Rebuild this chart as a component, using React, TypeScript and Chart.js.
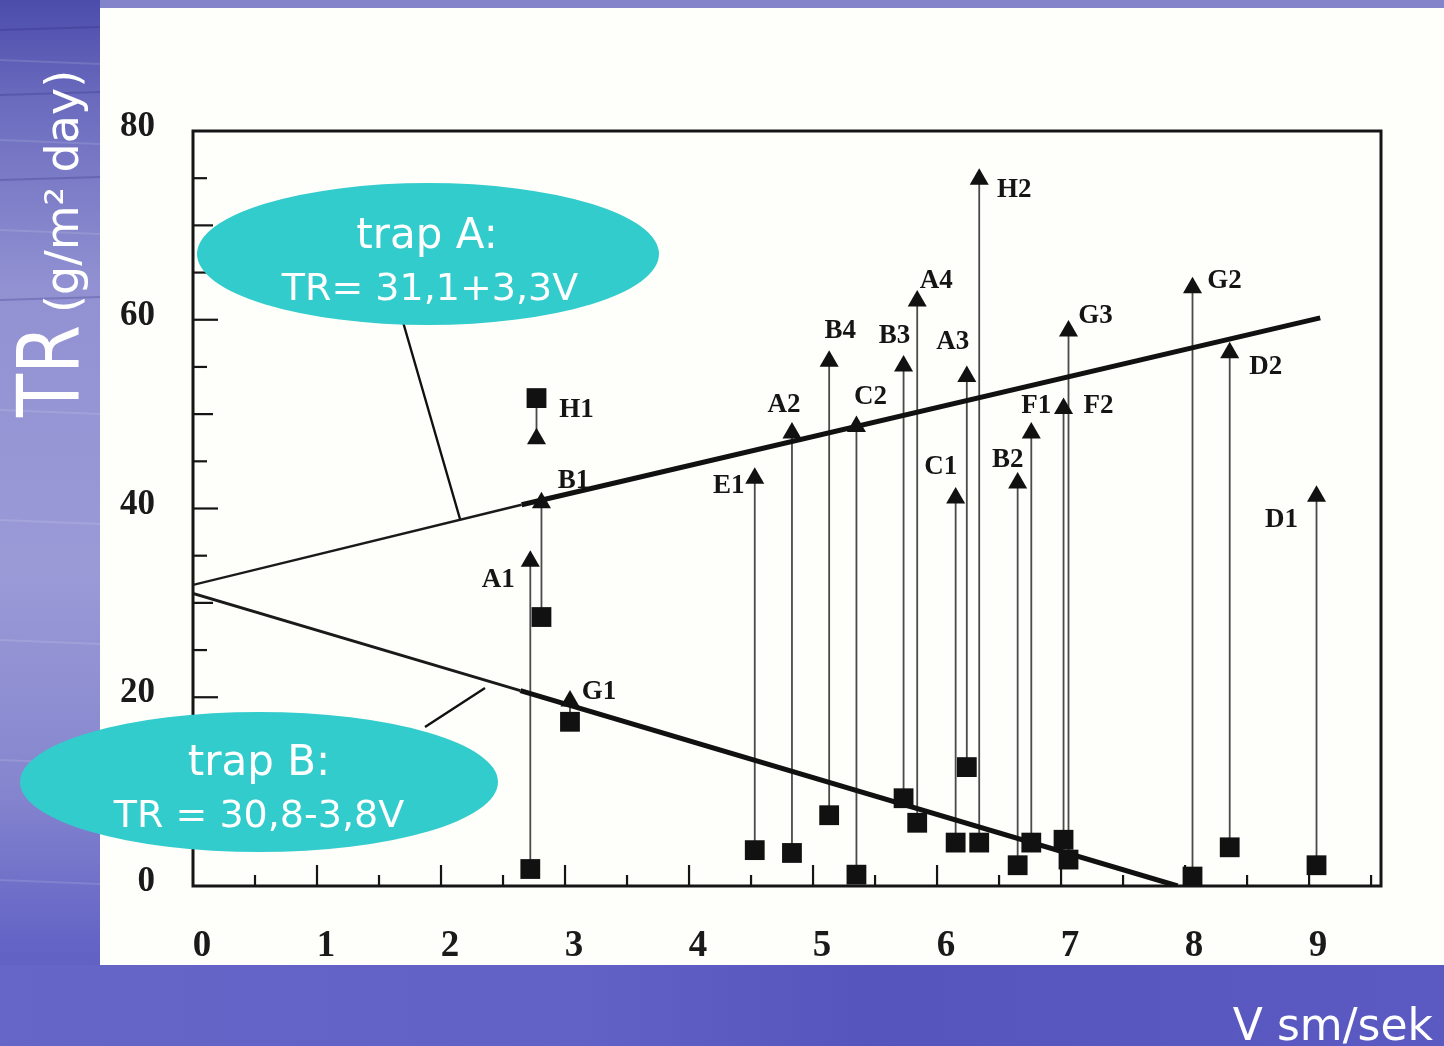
import React, { useEffect, useRef } from "react";
import { Chart, registerables } from "chart.js";

Chart.register(...registerables);

// ---- data ----
const stations = ["A1", "H1", "B1", "G1", "E1", "A2", "B4", "C2", "B3", "A4", "C1", "A3", "H2", "B2", "F1", "F2", "G3", "G2", "D2", "D1"];
const velocity = [2.72, 2.77, 2.81, 3.04, 4.53, 4.83, 5.13, 5.35, 5.73, 5.84, 6.15, 6.24, 6.34, 6.65, 6.76, 7.02, 7.06, 8.06, 8.36, 9.06];
const trapA = [34.4, 47.4, 40.6, 19.6, 43.2, 48.0, 55.6, 48.7, 55.1, 62.0, 41.1, 54.0, 74.9, 42.7, 48.0, 50.6, 58.8, 63.4, 56.5, 41.3];
const trapB = [1.8, 51.7, 28.5, 17.4, 3.8, 3.5, 7.5, 1.2, 9.3, 6.7, 4.6, 12.6, 4.6, 2.2, 4.6, 4.9, 2.8, 1.0, 4.1, 2.2];

// fitted lines (V, TR)
const fitAV = [0, 2.65, 9.09];
const fitATR = [31.9, 40.4, 60.2];
const fitBV = [0, 2.64, 7.94];
const fitBTR = [31.0, 20.7, 0];

const xMin = 0;
const xMax = 9.58;
const yMin = 0;
const yMax = 80;
const xStep = 1;
const yStep = 20;

const yTitleMain = "TR";
const yTitleUnit = "(g/m\u00B2 day)";
const xTitle = "V sm/sek";
const noteA = ["trap A:", "TR= 31,1+3,3V"];
const noteB = ["trap B:", "TR = 30,8-3,8V"];

// ---- layout (pixels) ----
const labelOffsets = [
  [-32, 19], [40, -29], [32, -22], [29, -9], [-26, 8], [-8, -28], [11, -30], [14, -29], [-9, -30], [19, -20],
  [-15, -31], [-14, -34], [35, 11], [-10, -23], [5, -27], [35, -2], [27, -15], [32, -7], [36, 14], [-35, 24],
];

const W = 1444;
const H = 1046;

function pts(xs: number[], ys: number[]) {
  return xs.map((v, i) => ({ x: v, y: ys[i] }));
}

const slidePlugin = {
  id: "slide",
  beforeDraw(chart: any) {
    const ctx = chart.ctx;
    ctx.save();
    const g = ctx.createLinearGradient(0, 0, 0, H);
    g.addColorStop(0, "#4c4cac");
    g.addColorStop(0.1, "#6c6cbf");
    g.addColorStop(0.28, "#9292d3");
    g.addColorStop(0.55, "#9a9ad7");
    g.addColorStop(0.75, "#8686cf");
    g.addColorStop(0.9, "#6464c6");
    g.addColorStop(1, "#5a5ac0");
    ctx.fillStyle = g;
    ctx.fillRect(0, 0, W, H);
    // bottom band
    const gb = ctx.createLinearGradient(0, 0, W, 0);
    gb.addColorStop(0, "#6666c8");
    gb.addColorStop(0.4, "#6161c6");
    gb.addColorStop(0.6, "#5555bd");
    gb.addColorStop(1, "#5a5ac2");
    ctx.fillStyle = gb;
    ctx.fillRect(0, 965, W, H - 965);
    // top strip
    ctx.fillStyle = "#8484cb";
    ctx.fillRect(100, 0, W - 100, 8);
    // faint streaks on the left strip
    ctx.strokeStyle = "rgba(255,255,255,0.12)";
    ctx.lineWidth = 2;
    for (const sy of [60, 140, 230, 410, 520, 640, 760, 880]) {
      ctx.beginPath();
      ctx.moveTo(0, sy);
      ctx.lineTo(100, sy + 4);
      ctx.stroke();
    }
    ctx.strokeStyle = "rgba(40,40,120,0.25)";
    for (const sy of [30, 95, 180, 300]) {
      ctx.beginPath();
      ctx.moveTo(0, sy);
      ctx.lineTo(100, sy - 3);
      ctx.stroke();
    }
    // white panel
    ctx.fillStyle = "#fefefb";
    ctx.fillRect(100, 8, W - 100, 957);
    ctx.restore();
  },
  beforeDatasetsDraw(chart: any) {
    const { ctx, chartArea: a } = chart;
    const xs = chart.scales.x;
    const ys = chart.scales.y;
    ctx.save();
    // connectors between trap A and trap B values
    ctx.strokeStyle = "#4a4a4a";
    ctx.lineWidth = 1.8;
    for (let i = 0; i < stations.length; i++) {
      const px = xs.getPixelForValue(velocity[i]);
      ctx.beginPath();
      ctx.moveTo(px, ys.getPixelForValue(trapA[i]));
      ctx.lineTo(px, ys.getPixelForValue(trapB[i]));
      ctx.stroke();
    }
    // frame
    ctx.strokeStyle = "#151515";
    ctx.lineWidth = 3;
    ctx.strokeRect(a.left, a.top, a.right - a.left, a.bottom - a.top);
    // inner ticks on the left axis
    ctx.lineWidth = 2.2;
    for (let v = 5; v < yMax; v += 5) {
      const len = v % 20 === 0 ? 25 : v % 10 === 0 ? 20 : 14;
      const py = ys.getPixelForValue(v);
      ctx.beginPath();
      ctx.moveTo(a.left, py);
      ctx.lineTo(a.left + len, py);
      ctx.stroke();
    }
    // inner ticks on the bottom axis
    for (let v = 0.5; v < xMax; v += 0.5) {
      const len = Number.isInteger(v) ? 21 : 11;
      const px = xs.getPixelForValue(v);
      ctx.beginPath();
      ctx.moveTo(px, a.bottom);
      ctx.lineTo(px, a.bottom - len);
      ctx.stroke();
    }
    // leader lines from the notes
    ctx.strokeStyle = "#111";
    ctx.lineWidth = 2.4;
    ctx.beginPath();
    ctx.moveTo(403, 322);
    ctx.lineTo(460, 519);
    ctx.moveTo(425, 727);
    ctx.lineTo(485, 688);
    ctx.stroke();
    ctx.restore();
  },
  afterDatasetsDraw(chart: any) {
    const ctx = chart.ctx;
    const xs = chart.scales.x;
    const ys = chart.scales.y;
    ctx.save();
    ctx.fillStyle = "#151515";
    ctx.font = 'bold 27px "Liberation Serif"';
    ctx.textAlign = "center";
    ctx.textBaseline = "middle";
    for (let i = 0; i < stations.length; i++) {
      const px = xs.getPixelForValue(velocity[i]);
      const py = ys.getPixelForValue(trapA[i]);
      const [dx, dy] = labelOffsets[i];
      ctx.fillText(stations[i], px + dx, py + dy);
    }
    ctx.restore();
  },
  afterDraw(chart: any) {
    const ctx = chart.ctx;
    ctx.save();
    // ellipse notes
    ctx.fillStyle = "#33cccc";
    ctx.beginPath();
    ctx.ellipse(428, 254, 231, 71, 0, 0, Math.PI * 2);
    ctx.fill();
    ctx.beginPath();
    ctx.ellipse(259, 782, 239, 70, 0, 0, Math.PI * 2);
    ctx.fill();
    ctx.fillStyle = "#ffffff";
    ctx.textAlign = "center";
    ctx.textBaseline = "alphabetic";
    ctx.font = '42px "DejaVu Sans"';
    ctx.fillText(noteA[0], 427, 248);
    ctx.font = '38px "DejaVu Sans"';
    ctx.fillText(noteA[1], 430, 300);
    ctx.font = '42px "DejaVu Sans"';
    ctx.fillText(noteB[0], 259, 775);
    ctx.font = '38px "DejaVu Sans"';
    ctx.fillText(noteB[1], 259, 827);

    // y title (rotated)
    ctx.save();
    ctx.translate(78, 417);
    ctx.rotate(-Math.PI / 2);
    ctx.textAlign = "left";
    ctx.font = '86px "DejaVu Sans"';
    const wTR = ctx.measureText(yTitleMain).width * 0.82;
    ctx.save();
    ctx.scale(0.82, 1);
    ctx.fillText(yTitleMain, 0, 0);
    ctx.restore();
    ctx.font = '46px "DejaVu Sans"';
    ctx.fillText(yTitleUnit, wTR + 12, 0);
    ctx.restore();

    // x title
    ctx.textAlign = "right";
    ctx.font = '44px "DejaVu Sans"';
    ctx.fillText(xTitle, 1433, 1040);
    ctx.restore();
  },
};

export default function App() {
  const ref = useRef<HTMLCanvasElement | null>(null);

  useEffect(() => {
    document.body.style.margin = "0";
    document.body.style.overflow = "hidden";
    const canvas = ref.current;
    if (!canvas) return;
    const chart = new Chart(canvas, {
      type: "scatter",
      data: {
        datasets: [
          {
            label: "trap A",
            data: pts(velocity, trapA),
            pointStyle: "triangle",
            radius: 11,
            backgroundColor: "#111",
            borderWidth: 0,
            order: 0,
          },
          {
            label: "trap B",
            data: pts(velocity, trapB),
            pointStyle: "rect",
            radius: 14,
            backgroundColor: "#111",
            borderWidth: 0,
            order: 0,
          },
          {
            label: "fit A (extrapolated)",
            data: pts(fitAV.slice(0, 2), fitATR.slice(0, 2)),
            showLine: true,
            pointRadius: 0,
            borderColor: "#1a1a1a",
            borderWidth: 2.4,
            order: 2,
          },
          {
            label: "fit A",
            data: pts(fitAV.slice(1), fitATR.slice(1)),
            showLine: true,
            pointRadius: 0,
            borderColor: "#111",
            borderWidth: 5,
            order: 2,
          },
          {
            label: "fit B (extrapolated)",
            data: pts(fitBV.slice(0, 2), fitBTR.slice(0, 2)),
            showLine: true,
            pointRadius: 0,
            borderColor: "#1a1a1a",
            borderWidth: 2.8,
            order: 2,
          },
          {
            label: "fit B",
            data: pts(fitBV.slice(1), fitBTR.slice(1)),
            showLine: true,
            pointRadius: 0,
            borderColor: "#111",
            borderWidth: 5,
            order: 2,
          },
        ],
      },
      options: {
        responsive: false,
        animation: false,
        devicePixelRatio: 1,
        layout: { padding: { left: 0, top: 131, right: 63, bottom: 60 } },
        plugins: { legend: { display: false }, tooltip: { enabled: false } },
        scales: {
          x: {
            type: "linear",
            min: xMin,
            max: xMax,
            grid: { display: false, drawTicks: false },
            border: { display: false },
            afterFit: (s: any) => {
              s.height = 100;
            },
            ticks: {
              stepSize: xStep,
              includeBounds: false,
              padding: 38,
              labelOffset: 9,
              color: "#1a1a1a",
              font: { family: "Liberation Serif", size: 37, weight: "bold" },
              maxRotation: 0,
              autoSkip: false,
            },
          },
          y: {
            type: "linear",
            min: yMin,
            max: yMax,
            grid: { display: false, drawTicks: false },
            border: { display: false },
            afterFit: (s: any) => {
              s.width = 193;
            },
            ticks: {
              stepSize: yStep,
              padding: 38,
              labelOffset: -4,
              color: "#1a1a1a",
              font: { family: "Liberation Serif", size: 35, weight: "bold" },
            },
          },
        },
      },
      plugins: [slidePlugin],
    } as any);
    return () => chart.destroy();
  }, []);

  return (
    <div style={{ position: "absolute", left: 0, top: 0, width: W, height: H }}>
      <canvas ref={ref} width={W} height={H} style={{ display: "block", width: W, height: H }} />
    </div>
  );
}
